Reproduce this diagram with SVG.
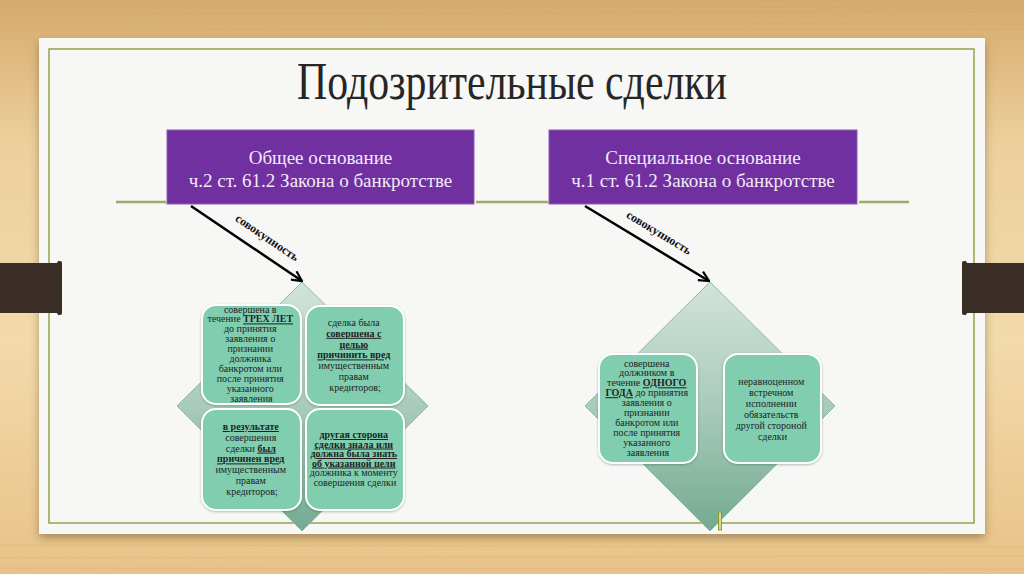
<svg xmlns="http://www.w3.org/2000/svg" width="1024" height="574" viewBox="0 0 1024 574">
<defs>
<linearGradient id="wood" x1="0" y1="0" x2="0" y2="1">
<stop offset="0" stop-color="#d6aa6c"/>
<stop offset="0.25" stop-color="#ecd09c"/>
<stop offset="0.6" stop-color="#f2daaa"/>
<stop offset="1" stop-color="#e8c288"/>
</linearGradient>
<linearGradient id="dia" x1="0" y1="0" x2="0" y2="1">
<stop offset="0" stop-color="#d2e3da"/>
<stop offset="0.5" stop-color="#a9cbbb"/>
<stop offset="1" stop-color="#74aa91"/>
</linearGradient>
<filter id="shadow" x="-5%" y="-5%" width="110%" height="115%">
<feDropShadow dx="0" dy="4" stdDeviation="4" flood-color="#5a4020" flood-opacity="0.45"/>
</filter>
<filter id="bshadow" x="-10%" y="-10%" width="120%" height="120%">
<feDropShadow dx="0" dy="1" stdDeviation="1.2" flood-color="#2a4a3a" flood-opacity="0.35"/>
</filter>
<marker id="arr" viewBox="0 0 12 12" refX="11" refY="6" markerWidth="12" markerHeight="12" markerUnits="userSpaceOnUse" orient="auto">
<path d="M1,1 L11,6 L1,11" fill="none" stroke="#000" stroke-width="2.2"/>
</marker>
<style>
.title{font-family:"Liberation Serif",serif;font-size:52px;fill:#262626}
.head{font-family:"Liberation Serif",serif;font-size:19px;fill:#f2eaf7;text-anchor:middle}
.purple{fill:#7030a0;stroke:#8c5ab8;stroke-width:1}
.rule{stroke:#a3a86a;stroke-width:2.5}
.diamond{fill:url(#dia);stroke:#8fb8a4;stroke-width:1}
.box{fill:#80cdb0;stroke:#ffffff;stroke-width:2;filter:url(#bshadow)}
.t{font-family:"Liberation Serif",serif;font-size:10px;fill:#1f1f1f;text-anchor:middle}
.b{font-weight:bold;text-decoration:underline}
.u{text-decoration:underline}
.lbl{font-family:"Liberation Serif",serif;font-size:12px;font-weight:bold;fill:#111;text-anchor:middle}
.conn{stroke:#000;stroke-width:2.5;fill:none}
</style>
</defs>

<!-- background -->
<rect x="0" y="0" width="1024" height="574" fill="url(#wood)"/>
<g stroke="#b58a50" stroke-opacity="0.12" stroke-width="1">
<line x1="0" y1="6" x2="1024" y2="8"/>
<line x1="0" y1="14" x2="1024" y2="12"/>
<line x1="0" y1="22" x2="1024" y2="24"/>
<line x1="0" y1="30" x2="1024" y2="29"/>
<line x1="0" y1="545" x2="1024" y2="547"/>
<line x1="0" y1="558" x2="1024" y2="556"/>
<line x1="0" y1="568" x2="1024" y2="569"/>
</g>

<!-- card -->
<g id="card">
<rect x="39" y="38" width="946" height="496" fill="#f7f7f5" filter="url(#shadow)"/>
<rect x="49" y="49" width="925" height="474" fill="none" stroke="#8fa54c" stroke-width="1.5"/>
</g>

<!-- clips -->
<g id="clips" fill="#3a2e27">
<rect x="0" y="263" width="60" height="50"/>
<rect x="57" y="261" width="5" height="54" rx="2"/>
<rect x="964" y="263" width="60" height="50"/>
<rect x="962" y="261" width="5" height="54" rx="2"/>
</g>

<!-- title -->
<g id="title">
<text class="title" x="512" y="99" text-anchor="middle" textLength="430" lengthAdjust="spacingAndGlyphs">Подозрительные сделки</text>
</g>

<!-- rule line -->
<g id="rules" class="rule">
<line x1="116" y1="202" x2="166" y2="202"/>
<line x1="476" y1="202" x2="548" y2="202"/>
<line x1="859" y1="202" x2="909" y2="202"/>
</g>

<!-- purple headers -->
<g id="general">
<rect class="purple" x="167" y="130" width="307" height="74"/>
<text class="head" x="320.5" y="164">Общее основание</text>
<text class="head" x="320.5" y="187">ч.2 ст. 61.2 Закона о банкротстве</text>
</g>
<g id="special">
<rect class="purple" x="549" y="130" width="308" height="74"/>
<text class="head" x="703" y="164">Специальное основание</text>
<text class="head" x="703" y="187">ч.1 ст. 61.2 Закона о банкротстве</text>
</g>

<!-- left diamond -->
<g id="left-diamond">
<polygon class="diamond" points="302,282 428,406 302,531 177,406"/>
</g>
<g id="box-three-years">
<rect class="box" x="202" y="305" width="99" height="99" rx="14"/>
<text class="t">
<tspan x="251.5" y="312.5">совершена в</tspan>
<tspan x="251.5" y="322.4">течение <tspan class="b">ТРЕХ ЛЕТ</tspan></tspan>
<tspan x="251.5" y="332.3">до принятия</tspan>
<tspan x="251.5" y="342.2">заявления о</tspan>
<tspan x="251.5" y="352.1">признании</tspan>
<tspan x="251.5" y="362">должника</tspan>
<tspan x="251.5" y="371.9">банкротом или</tspan>
<tspan x="251.5" y="381.8">после принятия</tspan>
<tspan x="251.5" y="391.7">указанного</tspan>
<tspan x="251.5" y="401.6">заявления</tspan>
</text>
</g>
<g id="box-purpose">
<rect class="box" x="306" y="306" width="98" height="99" rx="14"/>
<text class="t">
<tspan x="355" y="326">сделка была</tspan>
<tspan x="355" y="336.8" class="b">совершена с</tspan>
<tspan x="355" y="347.6" class="b">целью</tspan>
<tspan x="355" y="358.4" class="b">причинить вред</tspan>
<tspan x="355" y="369.2">имущественным</tspan>
<tspan x="355" y="380">правам</tspan>
<tspan x="355" y="390.8">кредиторов;</tspan>
</text>
</g>
<g id="box-harm">
<rect class="box" x="202" y="409" width="99" height="101" rx="14"/>
<text class="t">
<tspan x="252" y="430" class="b">в результате</tspan>
<tspan x="252" y="440.8">совершения</tspan>
<tspan x="252" y="451.6">сделки <tspan class="b">был</tspan></tspan>
<tspan x="252" y="462.4" class="b">причинен вред</tspan>
<tspan x="252" y="473.2">имущественным</tspan>
<tspan x="252" y="484">правам</tspan>
<tspan x="252" y="494.8">кредиторов;</tspan>
</text>
</g>
<g id="box-knew">
<rect class="box" x="306" y="409" width="98" height="101" rx="14"/>
<text class="t">
<tspan x="355" y="438" class="b">другая сторона</tspan>
<tspan x="355" y="447.5" class="b">сделки знала или</tspan>
<tspan x="355" y="457" class="b">должна была знать</tspan>
<tspan x="355" y="466.5" class="b">об указанной цели</tspan>
<tspan x="355" y="476">должника к моменту</tspan>
<tspan x="355" y="485.5">совершения сделки</tspan>
</text>
</g>

<!-- right diamond -->
<g id="right-diamond">
<polygon class="diamond" points="710,282 835,406 710,531 585,406"/>
</g>
<g id="box-one-year">
<rect class="box" x="599" y="354" width="98" height="109" rx="14"/>
<text class="t">
<tspan x="648" y="366.5">совершена</tspan>
<tspan x="648" y="376.4">должником в</tspan>
<tspan x="648" y="386.3">течение <tspan class="b">ОДНОГО</tspan></tspan>
<tspan x="648" y="396.2"><tspan class="b">ГОДА</tspan> до принятия</tspan>
<tspan x="648" y="406.1">заявления о</tspan>
<tspan x="648" y="416">признании</tspan>
<tspan x="648" y="425.9">банкротом или</tspan>
<tspan x="648" y="435.8">после принятия</tspan>
<tspan x="648" y="445.7">указанного</tspan>
<tspan x="648" y="455.6">заявления</tspan>
</text>
</g>
<g id="box-unequal">
<rect class="box" x="724" y="354" width="97" height="109" rx="14"/>
<text class="t">
<tspan x="772.5" y="385">неравноценном</tspan>
<tspan x="772.5" y="396">встречном</tspan>
<tspan x="772.5" y="407">исполнении</tspan>
<tspan x="772.5" y="418">обязательств</tspan>
<tspan x="772.5" y="429">другой стороной</tspan>
<tspan x="772.5" y="440">сделки</tspan>
</text>
</g>
<g id="cursor">
<rect x="718.5" y="512" width="3" height="18" fill="#d8d890" stroke="#8f9a30" stroke-width="1"/>
</g>

<!-- connectors -->
<g id="connectors">
<line class="conn" x1="191" y1="206" x2="302" y2="281" marker-end="url(#arr)"/>
<text class="lbl" transform="translate(265,241) rotate(34.2)">совокупность</text>
<line class="conn" x1="585" y1="206" x2="709" y2="281" marker-end="url(#arr)"/>
<text class="lbl" transform="translate(657,236) rotate(31.3)">совокупность</text>
</g>
</svg>
